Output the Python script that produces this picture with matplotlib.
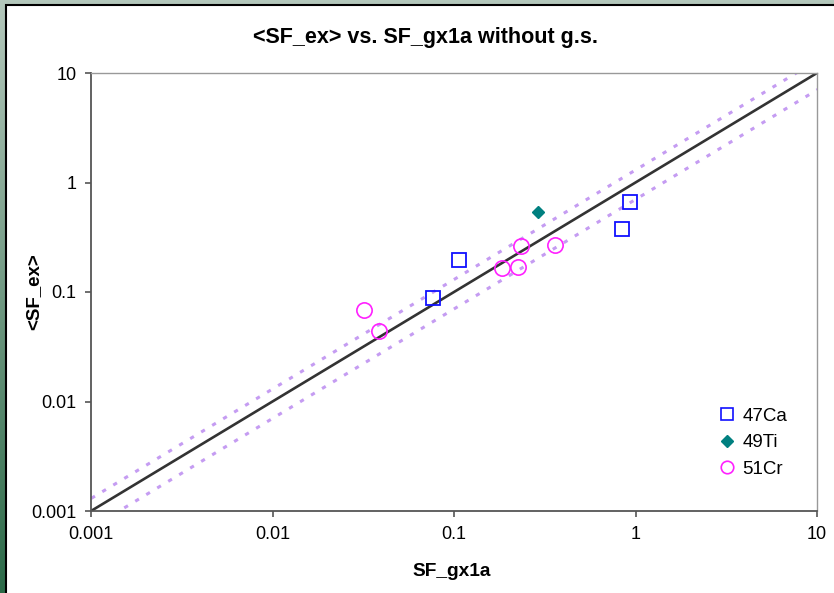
import numpy as np
import matplotlib
matplotlib.use('Agg')
import matplotlib.pyplot as plt
from matplotlib.lines import Line2D

plt.rcParams['font.family'] = ['Liberation Sans', 'DejaVu Sans']

# spectroscopic factors: shell model (gx1a) vs. averaged experiment
ca47_gx = [0.0764, 0.107, 0.84, 0.933]
ca47_ex = [0.0887, 0.196, 0.376, 0.659]
ti49_gx = [0.289]
ti49_ex = [0.535]
cr51_gx = [0.0319, 0.0387, 0.184, 0.226, 0.235, 0.360]
cr51_ex = [0.0686, 0.0441, 0.167, 0.170, 0.261, 0.267]

ticks = [0.001, 0.01, 0.1, 1, 10]
tick_labels = ['0.001', '0.01', '0.1', '1', '10']

fig = plt.figure(figsize=(8.34, 5.93), dpi=100)

# green frame behind the white sheet
bg = fig.add_axes([0, 0, 1, 1], zorder=-10)
grad = np.linspace(0, 1, 256).reshape(-1, 1)
cmap = matplotlib.colors.LinearSegmentedColormap.from_list('frame', ['#2c6a48', '#b4c8bc'])
bg.imshow(grad, aspect='auto', cmap=cmap, origin='lower', extent=[0, 1, 0, 1])
bg.set_xlim(0, 1)
bg.set_ylim(0, 1)
bg.add_patch(plt.Rectangle((6 / 834, -0.01), 1, 1.01 - 5 / 593, facecolor='white',
                           edgecolor='black', linewidth=1.5))
bg.axis('off')

ax = fig.add_axes([91 / 834, 1 - 511 / 593, 726 / 834, 438 / 593])
ax.set_xscale('log')
ax.set_yscale('log')
ax.set_xlim(0.001, 10)
ax.set_ylim(0.001, 10)

xx = np.array([0.0005, 20])
ax.plot(xx, xx, color='#333333', lw=1.9, zorder=2)
ax.plot(xx, 1.3 * xx, color='#c59cf2', lw=2.2, ls=(0, (1.4, 2.8)), zorder=1)
ax.plot(xx, 0.7 * xx, color='#c59cf2', lw=2.2, ls=(0, (1.4, 2.8)), zorder=1)

ax.plot(ca47_gx, ca47_ex, ls='none', marker='s', ms=10.5, mfc='none',
        mec='#1010ff', mew=1.3, zorder=3)
ax.plot(ti49_gx, ti49_ex, ls='none', marker='D', ms=6, mfc='#008080',
        mec='#008080', zorder=3)
ax.plot(cr51_gx, cr51_ex, ls='none', marker='o', ms=11, mfc='none',
        mec='#ff20ff', mew=1.2, zorder=3)

ax.set_xticks(ticks)
ax.set_xticklabels(tick_labels)
ax.set_yticks(ticks)
ax.set_yticklabels(tick_labels)
ax.minorticks_off()
ax.tick_params(direction='out', length=4.5, width=1.2, color='#555555',
               labelsize=13, pad=6)

for side in ['left', 'bottom']:
    ax.spines[side].set_color('#555555')
    ax.spines[side].set_linewidth(1.3)
for side in ['top', 'right']:
    ax.spines[side].set_color('#999999')
    ax.spines[side].set_linewidth(1.0)

handles = [
    Line2D([], [], ls='none', marker='s', ms=9, mfc='none', mec='#1010ff', mew=1.2),
    Line2D([], [], ls='none', marker='D', ms=6, mfc='#008080', mec='#008080'),
    Line2D([], [], ls='none', marker='o', ms=9, mfc='none', mec='#ff20ff', mew=1.2),
]
ax.legend(handles, ['47Ca', '49Ti', '51Cr'], loc='lower right', frameon=False,
          fontsize=13.5, handlelength=0.6, handletextpad=0.5, labelspacing=0.5,
          bbox_to_anchor=(0.982, 0.037))

fig.text(425 / 834, 1 - 38 / 593, '<SF_ex> vs. SF_gx1a without g.s.', ha='center',
         va='center', fontsize=15.5, fontweight='bold')
fig.text(452 / 834, 1 - 572 / 593, 'SF_gx1a', ha='center', va='center',
         fontsize=13.8, fontweight='bold')
fig.text(34 / 834, 1 - 292 / 593, '<SF_ex>', ha='center', va='center',
         rotation=90, fontsize=13.5, fontweight='bold')

fig.savefig('out.png', dpi=100)
